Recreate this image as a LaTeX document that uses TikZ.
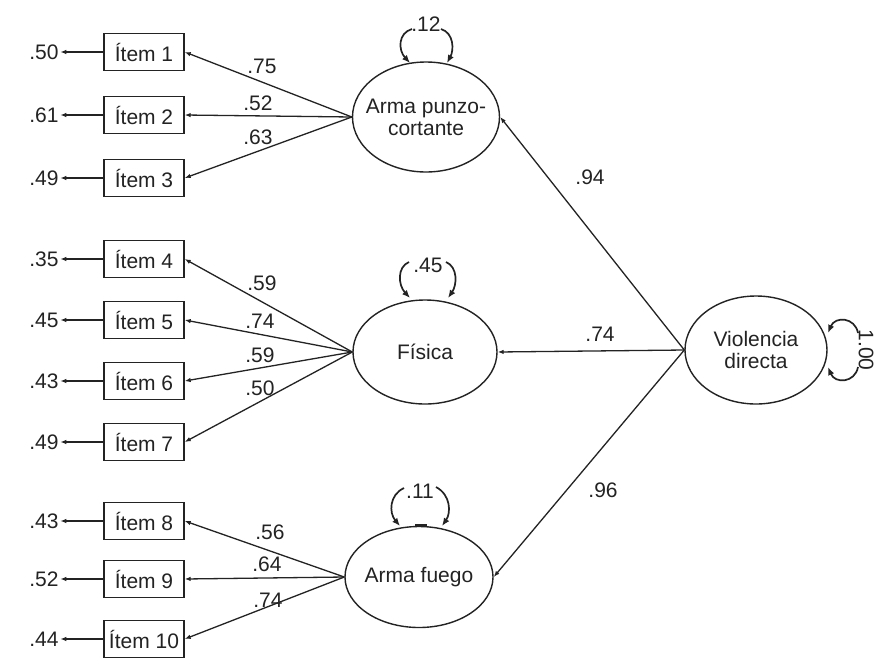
\documentclass[tikz,border=0pt]{standalone}
\usepackage{fontspec}
\setmainfont{Liberation Sans}
\usetikzlibrary{shapes.geometric,arrows.meta}
\definecolor{ink}{RGB}{35,35,35}
\begin{document}
\begin{tikzpicture}[x=1pt,y=-1pt,
  every node/.style={font=\fontsize{21}{24}\selectfont, text=ink},
  itembox/.style={draw=ink, line width=1.4pt, rectangle, minimum width=80pt, minimum height=37pt, inner sep=0pt},
  latent/.style={draw=ink, line width=1.4pt, ellipse, inner sep=0pt},
  ltext/.style={align=center, inner sep=0pt},
  lab/.style={inner sep=1.5pt},
  arr/.style={draw=ink, line width=1.3pt, -{Latex[length=6pt,width=4.5pt]}},
  varr/.style={draw=ink, line width=1.7pt, -{Latex[length=8pt,width=6.5pt]}}
]
\useasboundingbox (0,0) rectangle (874,659);
\fill[white] (0,0) rectangle (874,659);

% latent variables
\node[latent, minimum width=147pt, minimum height=110pt] (ap) at (426,117) {};
\node[ltext] (apt) at (ap.center) {Arma punzo-\\[-2pt]cortante};
\node[latent, minimum width=144pt, minimum height=104pt] (fi) at (425,352) {};
\node[ltext] (fit) at (fi.center) {Física};
\node[latent, minimum width=148pt, minimum height=101pt] (af) at (419,577) {};
\node[ltext] (aft) at (af.center) {Arma fuego};
\node[latent, minimum width=142pt, minimum height=108pt] (vd) at (756,350) {};
\node[ltext] (vdt) at (vd.center) {Violencia\\[-2pt]directa};

% items
\foreach \n/\y in {1/52,2/115,3/178,4/259,5/320,6/381,7/442,8/521,9/579,10/639}{
  \node[itembox] (i\n) at (144,\y) {Ítem \n};
}
% error variances
\foreach \n/\y/\v in {1/52/.50,2/115/.61,3/178/.49,4/259/.35,5/320/.45,6/381/.43,7/442/.49,8/521/.43,9/579/.52,10/639/.44}{
  \node[lab] (e\n) at (44,\y) {\v};
  \draw[arr] (i\n.west) -- (e\n.east);
}

% loadings
\foreach \n in {1,2,3}{ \draw[arr] (ap.west) -- (i\n.east); }
\foreach \n in {4,5,6,7}{ \draw[arr] (fi.west) -- (i\n.east); }
\foreach \n in {8,9,10}{ \draw[arr] (af.west) -- (i\n.east); }

\node[lab] (l1) at (262,66) {.75};
\node[lab] (l2) at (258,103) {.52};
\node[lab] (l3) at (258,137) {.63};
\node[lab] (l4) at (262,283) {.59};
\node[lab] (l5) at (260,321) {.74};
\node[lab] (l6) at (260,355) {.59};
\node[lab] (l7) at (260,388) {.50};
\node[lab] (l8) at (270,532) {.56};
\node[lab] (l9) at (267,564) {.64};
\node[lab] (l10) at (268,600) {.74};

% second-order paths
\draw[arr] (vd.west) -- (ap.east);
\draw[arr] (vd.west) -- (fi.east);
\draw[arr] (vd.west) -- (af.east);
\node[lab] (g1) at (590,177) {.94};
\node[lab] (g2) at (600,334) {.74};
\node[lab] (g3) at (603,490) {.96};

% variance loops
\node[lab] (r1) at (426,24) {.12};
\coordinate (a1s) at (412,29); \coordinate (a1e) at (410,63);
\coordinate (a2s) at (441,29); \coordinate (a2e) at (447,63);
\draw[varr] (a1s) .. controls (398,33) and (398,50) .. (a1e);
\draw[varr] (a2s) .. controls (454,33) and (454,50) .. (a2e);

\node[lab] (r2) at (428,265) {.45};
\coordinate (b1s) at (409,262); \coordinate (b1e) at (410,298);
\coordinate (b2s) at (446,262); \coordinate (b2e) at (448,298);
\draw[varr] (b1s) .. controls (397,267) and (398,285) .. (b1e);
\draw[varr] (b2s) .. controls (458,267) and (457,285) .. (b2e);

\node[lab] (r3) at (420,491) {.11};
\coordinate (c1s) at (404,488); \coordinate (c1e) at (400,526);
\coordinate (c2s) at (436,487); \coordinate (c2e) at (442,526);
\draw[varr] (c1s) .. controls (389,495) and (389,513) .. (c1e);
\draw[varr] (c2s) .. controls (451,495) and (451,513) .. (c2e);
\draw[ink, line width=1.4pt] (415,525) -- (427,525);

\node[lab, rotate=-90] (r4) at (866,350) {1.00};
\coordinate (d1s) at (858,333); \coordinate (d1e) at (828,333);
\coordinate (d2s) at (858,367); \coordinate (d2e) at (828,367);
\draw[varr] (d1s) .. controls (855,317) and (835,316) .. (d1e);
\draw[varr] (d2s) .. controls (855,383) and (835,384) .. (d2e);
\end{tikzpicture}
\end{document}
